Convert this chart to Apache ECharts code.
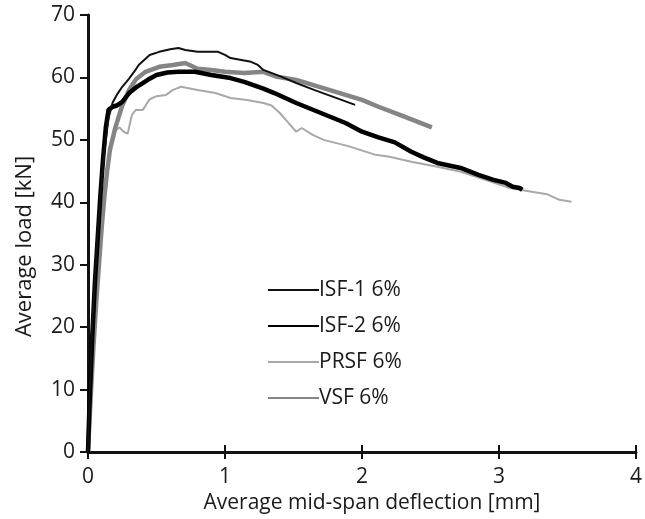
<!DOCTYPE html>
<html>
<head>
<meta charset="utf-8">
<script src="https://cdn.jsdelivr.net/npm/echarts@6/dist/echarts.min.js"></script>
<style>html,body{margin:0;padding:0;background:#fff}#c{width:645px;height:519px}</style>
</head>
<body>
<div id="c"></div>
<script>
const seriesNames = ['ISF-1 6%', 'ISF-2 6%', 'PRSF 6%', 'VSF 6%'];
const xTicks = [0, 1, 2, 3, 4];
const yTicks = [0, 10, 20, 30, 40, 50, 60, 70];

const isf1 = [[0,0],[0.01,8],[0.03,20],[0.05,28],[0.07,35],[0.09,41],[0.11,46],[0.13,50],[0.15,53.5],[0.18,56],[0.21,57.2],[0.25,58.5],[0.30,59.8],[0.34,61],[0.37,62],[0.41,62.8],[0.45,63.6],[0.52,64.1],[0.60,64.5],[0.66,64.7],[0.71,64.4],[0.80,64.1],[0.95,64.1],[1.00,63.6],[1.04,63.1],[1.12,62.8],[1.19,62.5],[1.24,62],[1.28,61.2],[1.40,60.2],[1.52,59.1],[1.65,58],[1.80,56.8],[1.95,55.6]];
const isf2 = [[0,0],[0.01,7],[0.03,18],[0.05,27],[0.07,34],[0.09,41],[0.11,47],[0.13,52],[0.15,54.8],[0.18,55.3],[0.21,55.5],[0.25,56.1],[0.30,57.5],[0.35,58.4],[0.40,59.1],[0.45,59.8],[0.50,60.4],[0.58,60.8],[0.66,60.9],[0.78,60.9],[0.90,60.4],[1.04,59.9],[1.14,59.3],[1.28,58.2],[1.36,57.5],[1.52,55.9],[1.70,54.3],[1.88,52.7],[2.00,51.3],[2.12,50.4],[2.24,49.6],[2.36,48.1],[2.45,47.2],[2.55,46.3],[2.72,45.5],[2.85,44.4],[2.96,43.6],[3.05,43.1],[3.10,42.5],[3.15,42.3],[3.17,42]];
const prsf = [[0,0],[0.02,10],[0.04,18],[0.06,25],[0.08,31],[0.10,37],[0.12,42],[0.14,46],[0.17,49.5],[0.20,51.5],[0.23,52],[0.26,51.3],[0.29,51],[0.32,54],[0.35,54.8],[0.40,54.8],[0.45,56.5],[0.50,57],[0.57,57.2],[0.62,58],[0.68,58.5],[0.80,58],[0.93,57.5],[1.04,56.7],[1.16,56.4],[1.28,55.9],[1.34,55.5],[1.40,54.3],[1.46,52.8],[1.52,51.3],[1.56,51.9],[1.64,50.8],[1.72,50],[1.90,49],[2.10,47.6],[2.20,47.3],[2.36,46.5],[2.55,45.7],[2.72,44.9],[2.90,43.6],[3.08,42.3],[3.24,41.7],[3.35,41.3],[3.44,40.4],[3.53,40.1]];
const vsf = [[0,0],[0.02,9],[0.04,17],[0.06,24],[0.08,30],[0.10,36],[0.12,41],[0.14,45],[0.16,48.4],[0.20,52],[0.25,55.5],[0.30,58],[0.35,59.7],[0.42,60.9],[0.52,61.7],[0.62,62],[0.71,62.3],[0.80,61.4],[0.90,61.2],[1.00,60.9],[1.14,60.7],[1.28,60.9],[1.38,60.1],[1.52,59.6],[1.70,58.4],[1.88,57.2],[2.00,56.4],[2.12,55.3],[2.30,53.8],[2.51,52.0]];

const FONT = 'Open Sans';
const TXT = '#1a1a1a';
const chart = echarts.init(document.getElementById('c'), null, {renderer: 'canvas'});
const axisLine = {show: true, onZero: false, lineStyle: {color: '#111', width: 3}};
chart.setOption({
  animation: false,
  backgroundColor: '#fff',
  grid: {left: 88, right: 0, top: 15, bottom: 67, containLabel: false},
  legend: {
    orient: 'vertical', left: 262, top: 274,
    itemWidth: 51, itemHeight: 14, itemGap: 14,
    data: seriesNames,
    itemStyle: {opacity: 0},
    textStyle: {fontFamily: FONT, fontSize: 21, lineHeight: 22, color: TXT, padding: [0, 0, 0, -5]}
  },
  xAxis: [{
    type: 'value', min: xTicks[0], max: xTicks[xTicks.length - 1], interval: 1,
    name: 'Average mid-span deflection [mm]', nameLocation: 'middle', nameGap: 39,
    nameTextStyle: {fontFamily: FONT, fontSize: 21, color: TXT, padding: [0, 0, 0, 20]},
    axisLine: axisLine,
    axisTick: {show: true, length: 7, lineStyle: {color: '#111', width: 2}},
    axisLabel: {fontFamily: FONT, fontSize: 21, color: TXT, margin: 15},
    splitLine: {show: false}
  }, {
    type: 'value', position: 'bottom', min: xTicks[0], max: xTicks[xTicks.length - 1], interval: 1,
    axisLine: {show: false},
    axisTick: {show: true, inside: true, length: 7, lineStyle: {color: '#111', width: 2}},
    axisLabel: {show: false}, splitLine: {show: false}
  }],
  yAxis: {
    type: 'value', min: yTicks[0], max: yTicks[yTicks.length - 1], interval: 10,
    name: 'Average load [kN]', nameLocation: 'middle', nameGap: 52,
    nameTextStyle: {fontFamily: FONT, fontSize: 22, color: TXT, padding: [0, 26, 0, 0]},
    axisLine: axisLine,
    axisTick: {show: true, length: 8, lineStyle: {color: '#111', width: 2}},
    axisLabel: {fontFamily: FONT, fontSize: 21, color: TXT, margin: 13},
    splitLine: {show: false}
  },
  series: [
    {name: seriesNames[0], type: 'line', data: isf1, symbol: 'none', z: 4, lineStyle: {color: '#111', width: 2}, itemStyle: {color: '#111'}},
    {name: seriesNames[1], type: 'line', data: isf2, symbol: 'none', z: 3, lineStyle: {color: '#000', width: 4.5}, itemStyle: {color: '#000'}},
    {name: seriesNames[2], type: 'line', data: prsf, symbol: 'none', z: 2, lineStyle: {color: '#a8a8a8', width: 2}, itemStyle: {color: '#a8a8a8'}},
    {name: seriesNames[3], type: 'line', data: vsf, symbol: 'none', z: 2, lineStyle: {color: '#858585', width: 4.5}, itemStyle: {color: '#858585'}}
  ]
});
</script>
</body>
</html>
